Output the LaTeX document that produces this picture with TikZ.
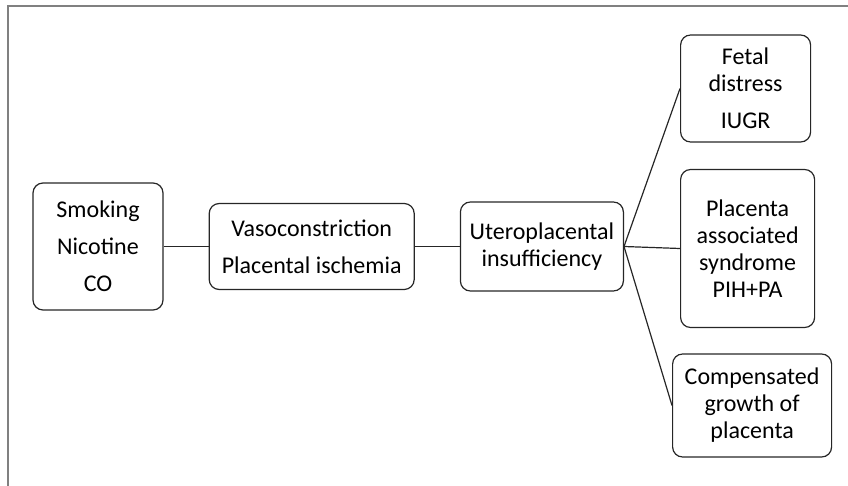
\documentclass[tikz,border=0pt]{standalone}
\usepackage{fontspec}
\setmainfont{Carlito}
\usetikzlibrary{positioning}
\tikzset{
    box/.style={rectangle, draw=black!85, line width=1.2pt, rounded corners=10pt, align=center, inner sep=2pt, font=\fontsize{24}{27}\selectfont},
    link/.style={draw=black!85, line width=1.2pt},
    frame/.style={draw=gray, line width=2pt},
}
\begin{document}
\begin{tikzpicture}[x=1pt, y=-1pt, node distance=45pt]
    \useasboundingbox (0,0) rectangle (848,486);
    % Outer frame (top and left edges only)
    \draw[frame] (8,486) -- (8,6) -- (848,6);

    % Main chain
    \node[box, minimum width=130pt, minimum height=127pt] (smoke) at (98,246.5) {Smoking\\[10pt]Nicotine\\[10pt]CO};
    \node[box, right=45pt of smoke, minimum width=205pt, minimum height=86pt] (vaso) {Vasoconstriction\\[10pt]Placental ischemia};
    \node[box, right=45pt of vaso, minimum width=163pt, minimum height=89pt] (utero) {Uteroplacental\\insufficiency};

    % Outcomes
    \node[box, right=56pt of utero, yshift=158pt, minimum width=130pt, minimum height=107pt] (fetal) {Fetal\\distress\\[10pt]IUGR};
    \node[box, right=56pt of utero, yshift=-2pt, minimum width=134pt, minimum height=158pt] (placenta) {Placenta\\associated\\syndrome\\PIH+PA};
    \node[box, right=48pt of utero, yshift=-159pt, minimum width=159pt, minimum height=103pt] (growth) {Compensated\\growth of\\placenta};

    % Links
    \draw[link] (smoke) -- (vaso);
    \draw[link] (vaso) -- (utero);
    \draw[link] (utero.east) -- (fetal.west);
    \draw[link] (utero.east) -- (placenta.west);
    \draw[link] (utero.east) -- (growth.west);
\end{tikzpicture}
\end{document}
